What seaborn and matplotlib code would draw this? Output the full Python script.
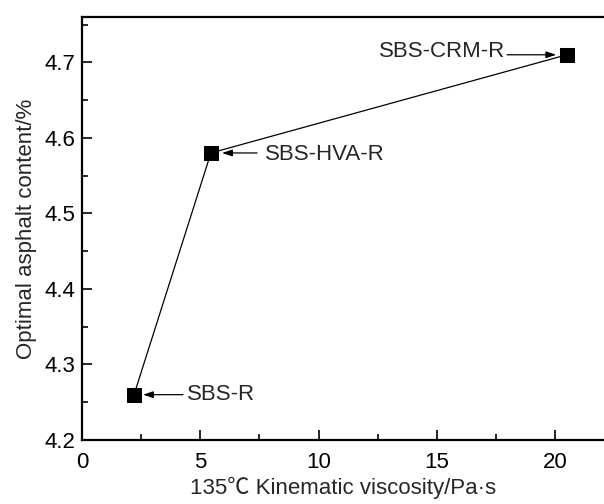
import matplotlib
matplotlib.use("Agg")
import matplotlib.pyplot as plt
import seaborn as sns
import pandas as pd
from matplotlib.ticker import MultipleLocator

viscosity = [2.2, 5.45, 20.5]
content = [4.26, 4.58, 4.71]
labels = ["SBS-R", "SBS-HVA-R", "SBS-CRM-R"]

sns.set_style("ticks")
plt.rcParams['font.family'] = ['Liberation Sans', 'Noto Sans CJK SC', 'DejaVu Sans']

df = pd.DataFrame({"x": viscosity, "y": content, "label": labels})

fig = plt.figure(figsize=(6.04, 5.04), dpi=100)
ax = fig.add_axes([82/604, 64/504, 1 - 82/604, (440-17)/504])

sns.lineplot(data=df, x="x", y="y", ax=ax, color="black", linewidth=0.9,
             marker="s", markersize=9.5, markerfacecolor="black", markeredgecolor="black",
             sort=False)

FS = 16
ax.set_xlim(0, 22.07)
ax.set_ylim(4.2, 4.76)
ax.xaxis.set_major_locator(MultipleLocator(5))
ax.xaxis.set_minor_locator(MultipleLocator(2.5))
ax.yaxis.set_major_locator(MultipleLocator(0.1))
ax.yaxis.set_minor_locator(MultipleLocator(0.05))
ax.tick_params(which="both", direction="in", labelsize=FS, colors="black", width=1.2)
ax.tick_params(which="major", length=7)
ax.tick_params(which="minor", length=4)
ax.tick_params(axis="x", pad=9)
ax.tick_params(axis="y", pad=5)
ax.set_yticks([4.2, 4.3, 4.4, 4.5, 4.6, 4.7])
ax.set_yticklabels(["4.2", "4.3", "4.4", "4.5", "4.6", "4.7"])

for s in ["left", "bottom", "top"]:
    ax.spines[s].set_linewidth(1.6)
    ax.spines[s].set_color("black")
ax.spines["right"].set_visible(False)

ax.set_xlabel("135℃ Kinematic viscosity/Pa·s", fontsize=FS, labelpad=2)
ax.set_ylabel("Optimal asphalt content/%", fontsize=FS, labelpad=5)

arrow = dict(arrowstyle="-|>,head_length=0.6,head_width=0.2", color="black", lw=0.9, shrinkA=0, shrinkB=0)
# SBS-R
ax.annotate("", xy=(2.58, 4.26), xytext=(4.27, 4.26), arrowprops=arrow)
ax.text(4.44, 4.26, labels[0], fontsize=FS, va="center", ha="left")
# SBS-HVA-R
ax.annotate("", xy=(5.92, 4.58), xytext=(7.4, 4.58), arrowprops=arrow)
ax.text(7.74, 4.578, labels[1], fontsize=FS, va="center", ha="left")
# SBS-CRM-R
ax.annotate("", xy=(20.05, 4.71), xytext=(17.97, 4.71), arrowprops=arrow)
ax.text(17.89, 4.714, labels[2], fontsize=FS, va="center", ha="right")

fig.savefig("out.png", dpi=100)
